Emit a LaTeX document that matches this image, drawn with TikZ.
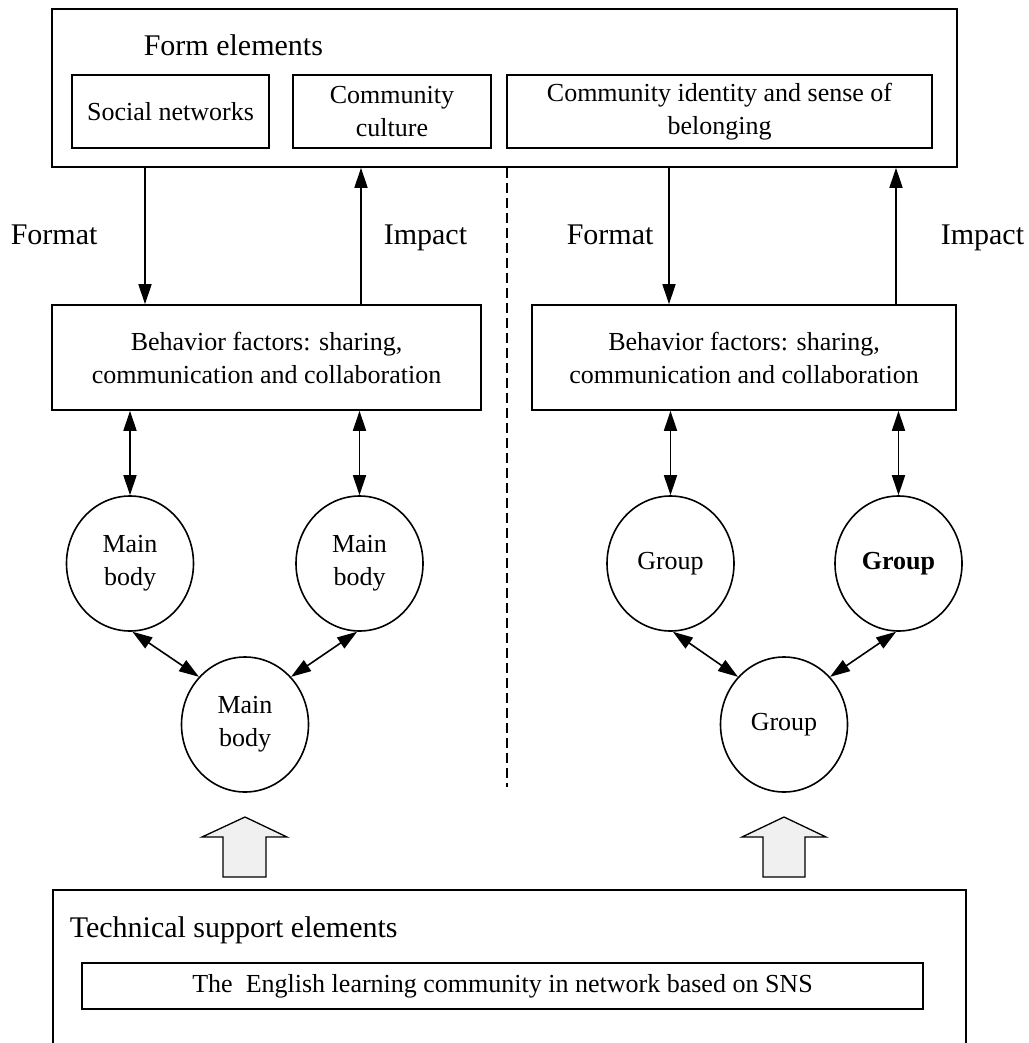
\documentclass[tikz,border=0pt]{standalone}
\usepackage{fontspec}
\setmainfont{Liberation Serif}
\usetikzlibrary{arrows.meta,shapes.geometric}
\begin{document}
\begin{tikzpicture}[x=1pt,y=-1pt,
  line width=1.6pt,
  >={Triangle[length=20pt,width=13pt]},
  box/.style={draw,rectangle,inner sep=0pt,align=center,font=\fontsize{26}{33}\selectfont},
  circ/.style={draw,ellipse,inner sep=0pt,minimum width=127pt,minimum height=135pt,align=center,font=\fontsize{26}{33}\selectfont},
  lbl/.style={inner sep=0pt,anchor=base west,font=\fontsize{30}{36}\selectfont},
  blockarrow/.style={draw,fill=black!6,line width=1.3pt,line join=miter}]
\useasboundingbox (0,0) rectangle (1028,1043);
\clip (0,0) rectangle (1028,1043);
% top container
\node[box,minimum width=905pt,minimum height=158pt] (top) at (504.5,88) {};
\node[lbl] (formel) at (143,56) {Form elements};
\node[box,minimum width=197pt,minimum height=73pt] (sn) at (170.5,111.5) {Social networks};
\node[box,minimum width=198pt,minimum height=73pt] (cc) at (392,111.5) {Community\\culture};
\node[box,minimum width=425pt,minimum height=73pt] (ci) at (719.5,111.5) {Community identity and sense of\\belonging};
% behavior boxes
\node[box,minimum width=429pt,minimum height=105pt] (bl) at (266.5,357.5) {Behavior factors: sharing,\\communication and collaboration};
\node[box,minimum width=424pt,minimum height=105pt] (br) at (744,357.5) {Behavior factors: sharing,\\communication and collaboration};
% labels
\node[lbl] (fmtl) at (10,244) {Format};
\node[lbl] (impl) at (383,244) {Impact};
\node[lbl] (fmtr) at (566,244) {Format};
\node[lbl] (impr) at (940,244) {Impact};
% arrows top <-> behavior
\coordinate (xa) at (145,0);
\coordinate (xb) at (361,0);
\coordinate (xc) at (669,0);
\coordinate (xd) at (896,0);
\draw[->] (top.south -| xa) -- (bl.north -| xa);
\draw[->] (bl.north -| xb) -- (top.south -| xb);
\draw[->] (top.south -| xc) -- (br.north -| xc);
\draw[->] (br.north -| xd) -- (top.south -| xd);
% dashed divider
\coordinate (dend) at (507,787);
\draw[dashed,line width=1.3pt,dash pattern=on 10pt off 5pt] (top.south -| dend) -- (dend);
% circles
\node[circ] (ml) at (130,563.5) {Main\\body};
\node[circ] (mr) at (359.5,563.5) {Main\\body};
\node[circ] (mb) at (245,724.5) {Main\\body};
\node[circ] (gl) at (670.5,563.5) {Group};
\node[circ] (gr) at (898.5,563.5) {\textbf{Group}};
\node[circ] (gb) at (784,724.5) {Group};
% vertical double arrows
\draw[<->] (bl.south -| ml.north) -- (ml.north);
\draw[<->] (bl.south -| mr.north) -- (mr.north);
\draw[<->] (br.south -| gl.north) -- (gl.north);
\draw[<->] (br.south -| gr.north) -- (gr.north);
% diagonal double arrows
\draw[<->] (ml.-88) -- (mb.134);
\draw[<->] (mr.-92) -- (mb.46);
\draw[<->] (gl.-88) -- (gb.134);
\draw[<->] (gr.-92) -- (gb.46);
% block arrows
\draw[blockarrow] (245,817) -- (287,837) -- (266,837) -- (266,877) -- (223,877) -- (223,837) -- (202,837) -- cycle;
\draw[blockarrow] (784,817) -- (826,837) -- (805,837) -- (805,877) -- (763,877) -- (763,837) -- (742,837) -- cycle;
% bottom container
\draw (53,1060) -- (53,890) -- (966,890) -- (966,1060);
\node[lbl] (tech) at (69,937) {Technical support elements};
\node[box,minimum width=841pt,minimum height=46pt] (sns) at (502.5,986) {The\ \ English learning community in network based on SNS};
\end{tikzpicture}
\end{document}
